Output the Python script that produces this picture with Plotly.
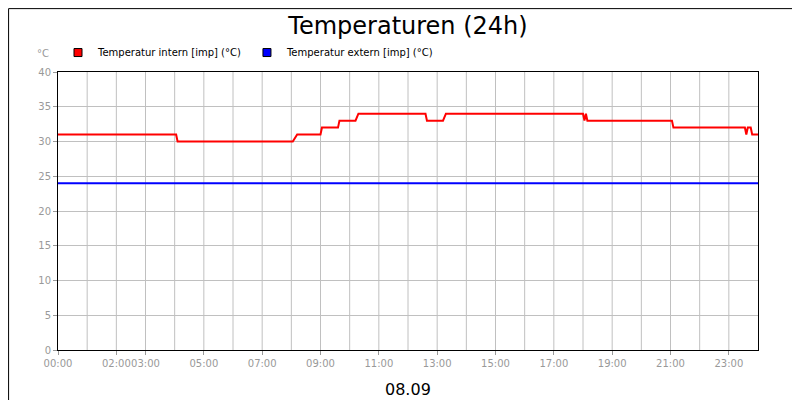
import plotly.graph_objects as go

# hours of the day (decimal) and readings
t_intern = [0, 4.05, 4.1, 8.05, 8.2, 9.0, 9.05, 9.6, 9.65, 10.2, 10.3, 12.6, 12.65, 13.2, 13.3,
            18.0, 18.05, 18.1, 18.15, 18.2, 21.05, 21.1, 23.55, 23.6, 23.65, 23.75, 23.8, 24.0]
v_intern = [31, 31, 30, 30, 31, 31, 32, 32, 33, 33, 34, 34, 33, 33, 34,
            34, 33, 34, 33, 33, 33, 32, 32, 31, 32, 32, 31, 31]
t_extern = [0, 24]
v_extern = [24, 24]

tick_hours = [0, 2, 3, 5, 7, 9, 11, 13, 15, 17, 19, 21, 23]
tick_text = ["%02d:00" % h for h in tick_hours]

names = ["Temperatur intern [imp] (°C)", "Temperatur extern [imp] (°C)"]
colors = ["#ff0000", "#0000ff"]

fig = go.Figure()
fig.add_trace(go.Scatter(x=t_intern, y=v_intern, mode="lines", showlegend=False,
                         line=dict(color=colors[0], width=2)))
fig.add_trace(go.Scatter(x=t_extern, y=v_extern, mode="lines", showlegend=False,
                         line=dict(color=colors[1], width=2)))
# legend entries with square symbols
for n, c in zip(names, colors):
    fig.add_trace(go.Scatter(x=[None], y=[None], mode="markers", name=n,
                             marker=dict(symbol="square", size=8, color=c,
                                         line=dict(color="black", width=1))))

fig.update_layout(
    width=800, height=400,
    margin=dict(l=50, r=50, t=64, b=58, autoexpand=False),
    paper_bgcolor="white", plot_bgcolor="white",
    font=dict(family="DejaVu Sans", size=10, color="#999999"),
    title=dict(text="Temperaturen (24h)", x=0.5, xanchor="center", y=0.955, yanchor="middle",
               font=dict(size=24, color="black")),
    showlegend=True,
    legend=dict(orientation="h", x=0.0, y=1.07, xanchor="left", yanchor="middle",
                font=dict(size=10, color="black"), itemwidth=30, tracegroupgap=0),
    xaxis=dict(range=[0, 24], tickvals=tick_hours, ticktext=tick_text, tickangle=0,
               showgrid=False, showline=True, linecolor="black", mirror=True, ticks="outside",
               tickcolor="#999999", ticklen=4, zeroline=False),
    yaxis=dict(range=[0, 40], dtick=5, showgrid=True, gridcolor="#c0c0c0",
               showline=True, linecolor="black", mirror=True, ticks="outside",
               tickcolor="#999999", ticklen=4, zeroline=False),
    shapes=[dict(type="rect", xref="paper", yref="paper", x0=-0.0706, x1=1.0706, y0=-0.207, y1=1.228,
                 line=dict(color="black", width=1))],
    annotations=[
        dict(text="°C", xref="paper", yref="paper", x=-0.01, y=1.04, showarrow=False,
             xanchor="right", yanchor="bottom", font=dict(size=10, color="#999999")),
        dict(text="08.09", xref="paper", yref="paper", x=0.5, y=-0.1, showarrow=False,
             xanchor="center", yanchor="top", font=dict(size=16, color="black")),
    ],
)

# hourly grid without labels
for h in range(1, 24):
    fig.add_vline(x=h, line=dict(color="#c0c0c0", width=1), layer="below")

fig.write_html("out.html")
